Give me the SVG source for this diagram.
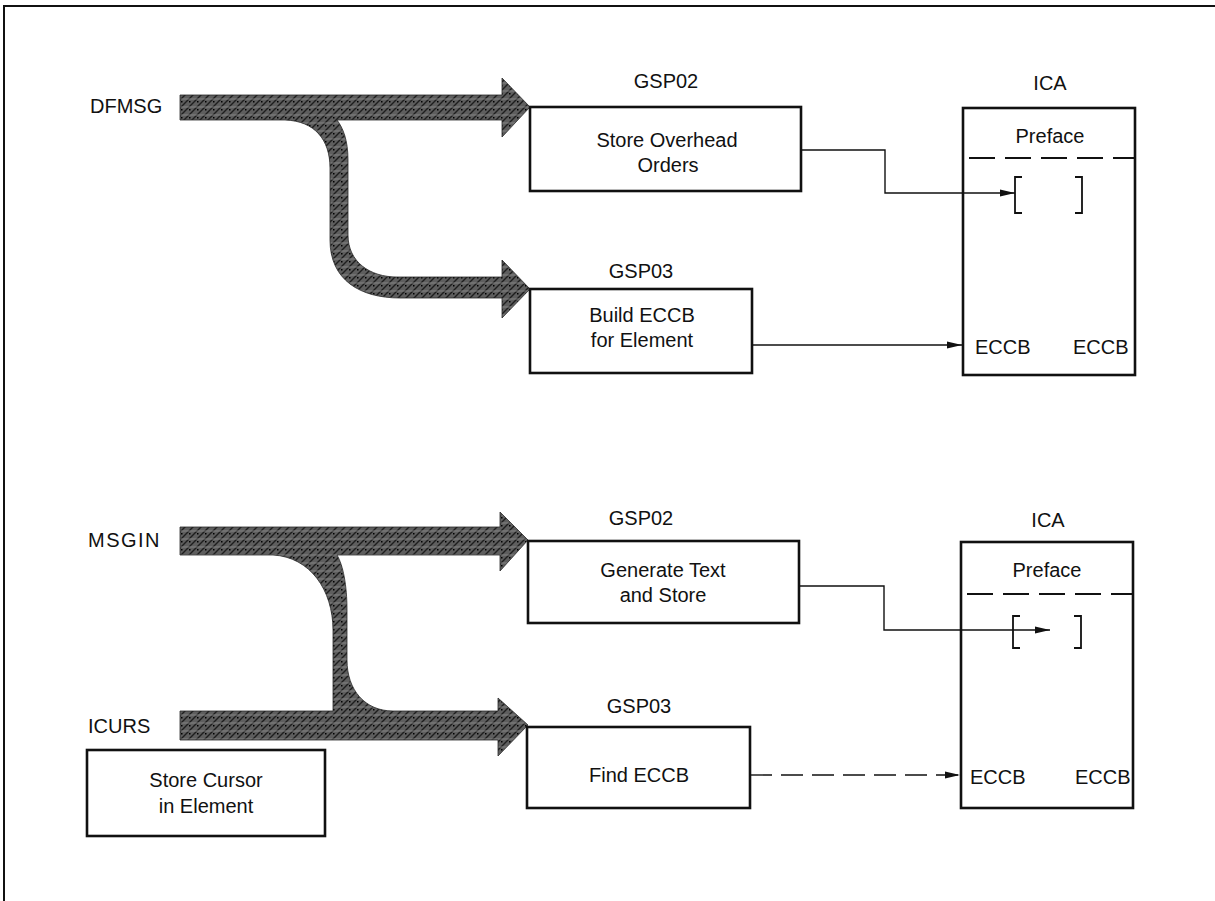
<svg xmlns="http://www.w3.org/2000/svg" width="1215" height="901" viewBox="0 0 1215 901">
<defs>
<style>
.t{font-family:"Liberation Sans",Arial,sans-serif;font-size:20px;fill:#111}
.m{text-anchor:middle}
.box{fill:#fff;stroke:#111;stroke-width:2.6}
.con{fill:none;stroke:#111;stroke-width:1.4}
.big{fill:url(#hatch);stroke:#2a2a2a;stroke-width:0.8}
</style>
<pattern id="hatch" width="8" height="8" patternUnits="userSpaceOnUse">
<rect width="8" height="8" fill="#5e5e5e"/>
<path d="M0,8 L8,0 M-2,2 L2,-2 M6,10 L10,6" stroke="#1e1e1e" stroke-width="1.4"/>
<path d="M0,3 H8" stroke="#8c8c8c" stroke-width="0.8"/>
<rect x="5" y="5" width="1.5" height="1.5" fill="#000"/>
</pattern>
<marker id="ah" markerWidth="16" markerHeight="8" refX="15" refY="4" orient="auto" markerUnits="userSpaceOnUse">
<path d="M0,0.5 L15,4 L0,7.5 Z" fill="#111"/>
</marker>
</defs>
<rect width="1215" height="901" fill="#fff"/>
<g id="frame">
<path d="M4,901 V6 H1215" fill="none" stroke="#111" stroke-width="2"/>
</g>

<g id="flows">
<path class="big" d="M180,95 L502,95 L502,78 L530,107 L502,137 L502,120 L337,120 C343,128 348,140 348,160 L348,235 C348,262 370,277 397,277 L502,277 L502,260 L530,289 L502,318 L502,298 L400,298 C360,298 330,280 330,240 L330,168 C330,140 315,121 285,120 L180,120 Z"/>
<path class="big" d="M180,527 L500,527 L500,512 L528,540 L500,571 L500,555 L337,555 C343,565 347,585 347,610 L347,660 C347,690 365,711 393,711 L498,711 L498,698 L528,725 L498,756 L498,740 L180,740 L180,711 L333,711 L333,630 C333,590 310,557 273,555 L180,555 Z"/>
</g>

<g id="inputs">
<text class="t" x="90" y="113">DFMSG</text>
<text class="t" x="88" y="547" letter-spacing="1.5">MSGIN</text>
<text class="t" x="88" y="733">ICURS</text>
</g>

<g id="gsp02-top">
<text class="t m" x="666" y="88">GSP02</text>
<rect class="box" x="530" y="107" width="271" height="84"/>
<text class="t m" x="667" y="147">Store Overhead</text>
<text class="t m" x="668" y="172">Orders</text>
</g>

<g id="gsp03-top">
<text class="t m" x="641" y="278">GSP03</text>
<rect class="box" x="530" y="289" width="222" height="84"/>
<text class="t m" x="642" y="322">Build ECCB</text>
<text class="t m" x="642" y="347">for Element</text>
</g>

<g id="ica-top">
<text class="t m" x="1050" y="90">ICA</text>
<rect class="box" x="963" y="108" width="172" height="267"/>
<text class="t m" x="1050" y="143">Preface</text>
<line x1="969" y1="158" x2="1135" y2="158" stroke="#111" stroke-width="2" stroke-dasharray="26 10"/>
<path d="M1022,177 H1015 V213 H1022 M1075,177 H1082 V213 H1075" fill="none" stroke="#111" stroke-width="1.8"/>
<text class="t" x="975" y="354">ECCB</text>
<text class="t" x="1073" y="354">ECCB</text>
</g>

<g id="gsp02-bottom">
<text class="t m" x="641" y="525">GSP02</text>
<rect class="box" x="528" y="541" width="271" height="82"/>
<text class="t m" x="663" y="577">Generate Text</text>
<text class="t m" x="663" y="602">and Store</text>
</g>

<g id="gsp03-bottom">
<text class="t m" x="639" y="713">GSP03</text>
<rect class="box" x="527" y="727" width="223" height="81"/>
<text class="t m" x="639" y="782">Find ECCB</text>
</g>

<g id="store-cursor">
<rect class="box" x="87" y="750" width="238" height="86"/>
<text class="t m" x="206" y="787">Store Cursor</text>
<text class="t m" x="206" y="813">in Element</text>
</g>

<g id="ica-bottom">
<text class="t m" x="1048" y="527">ICA</text>
<rect class="box" x="961" y="542" width="172" height="266"/>
<text class="t m" x="1047" y="577">Preface</text>
<line x1="967" y1="594" x2="1133" y2="594" stroke="#111" stroke-width="2" stroke-dasharray="26 10"/>
<path d="M1020,616 H1013 V648 H1020 M1074,616 H1081 V648 H1074" fill="none" stroke="#111" stroke-width="1.8"/>
<text class="t" x="970" y="784">ECCB</text>
<text class="t" x="1075" y="784">ECCB</text>
</g>

<g id="connectors">
<polyline class="con" points="801,150 885,150 885,193 1015,193" marker-end="url(#ah)"/>
<line class="con" x1="752" y1="345" x2="962" y2="345" marker-end="url(#ah)"/>
<polyline class="con" points="799,586 884,586 884,630 1050,630" marker-end="url(#ah)"/>
<line class="con" x1="750" y1="775" x2="960" y2="775" stroke-dasharray="22 9" marker-end="url(#ah)"/>
</g>
</svg>
